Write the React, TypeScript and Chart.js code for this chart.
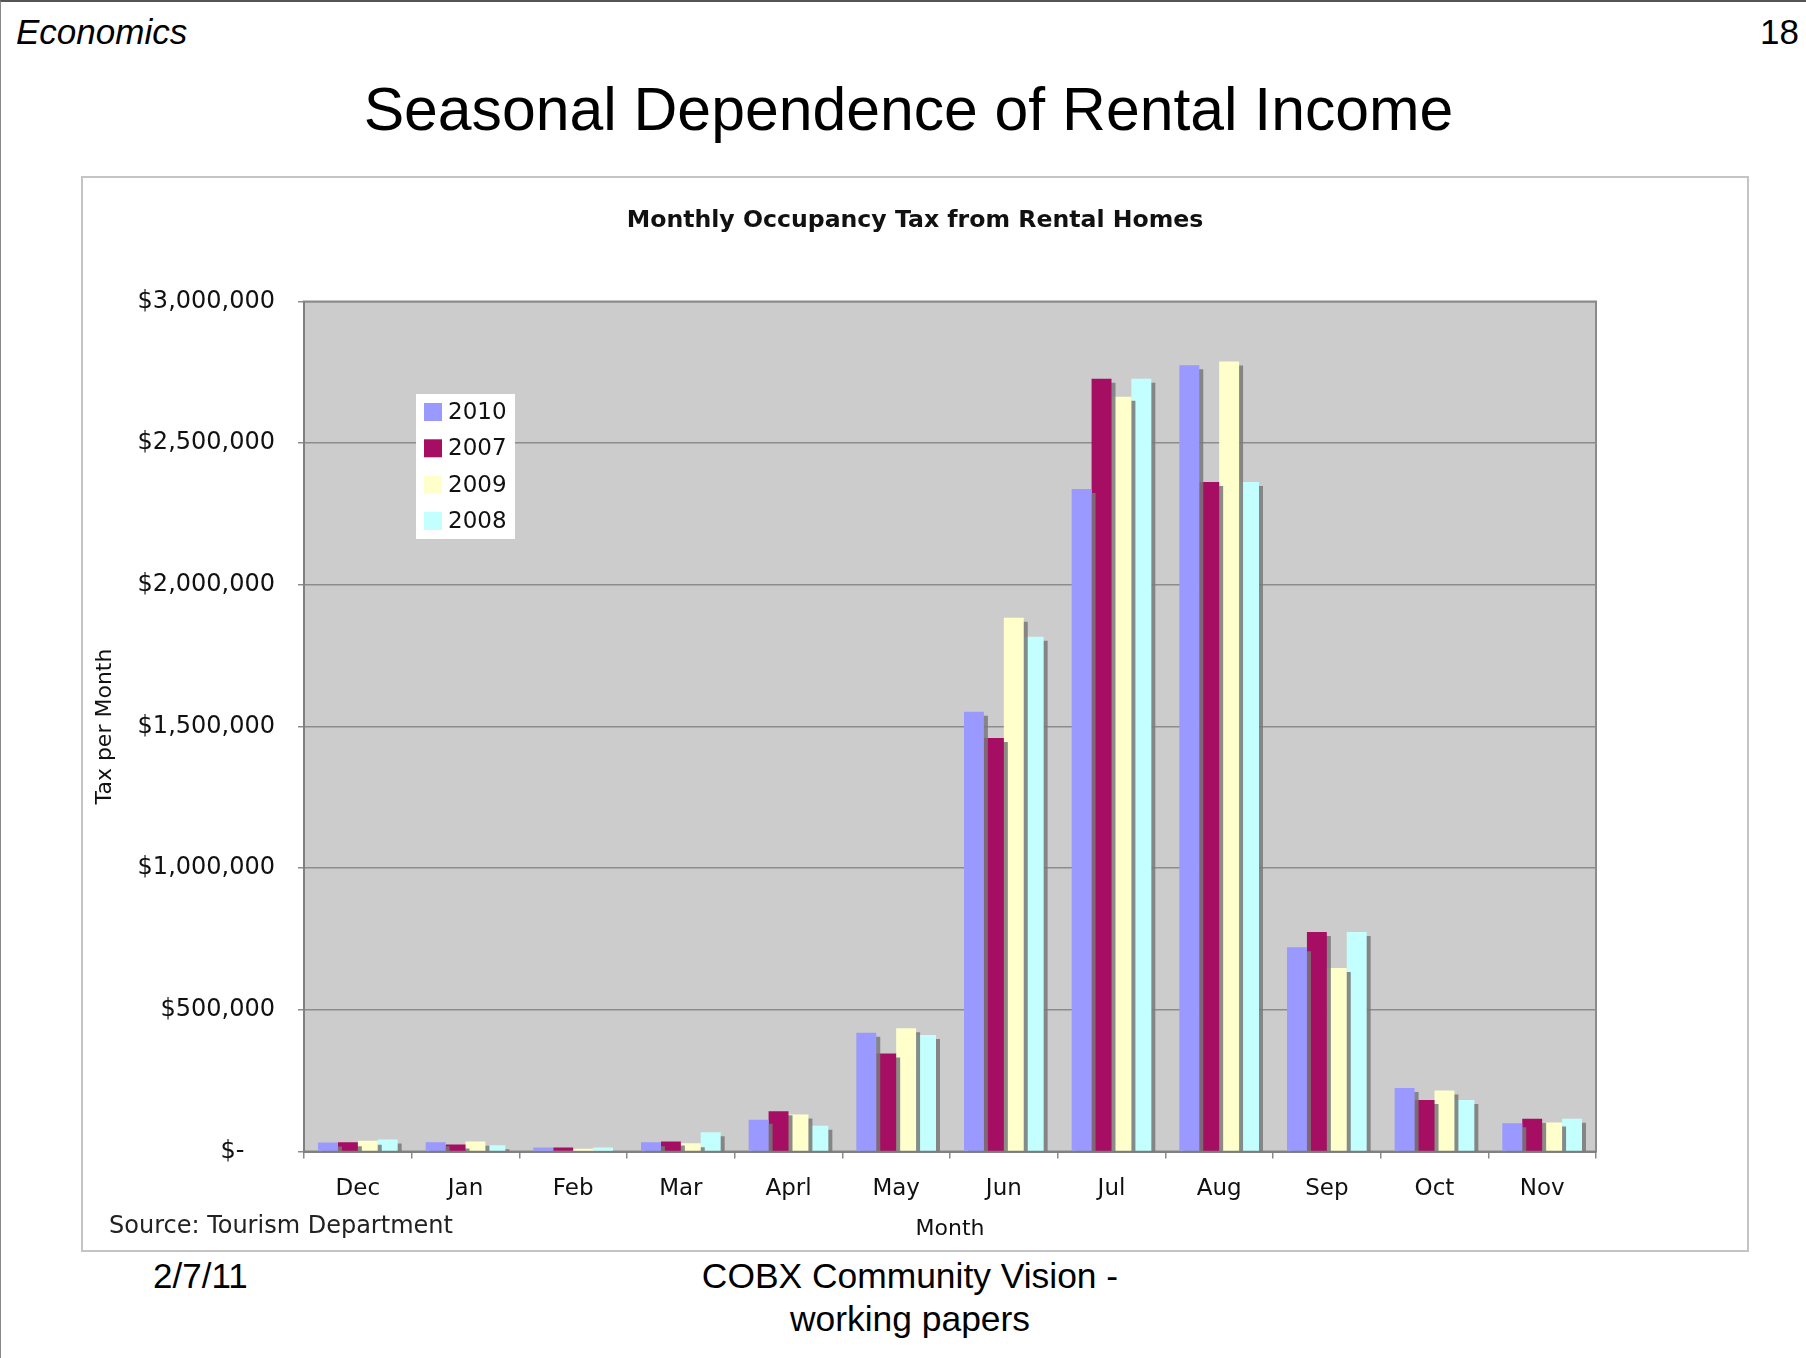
import React, { useEffect, useRef } from 'react';
import { Chart, registerables } from 'chart.js';

Chart.register(...registerables);

const months = ['Dec', 'Jan', 'Feb', 'Mar', 'Aprl', 'May', 'Jun', 'Jul', 'Aug', 'Sep', 'Oct', 'Nov'];
const seriesNames = ['2010', '2007', '2009', '2008'];
const tax2010 = [32000, 33000, 14000, 33000, 112000, 419000, 1552000, 2338000, 2775000, 721000, 224000, 100000];
const tax2007 = [33000, 25000, 14000, 35000, 142000, 346000, 1459000, 2727000, 2363000, 775000, 182000, 116000];
const tax2009 = [38000, 35000, 10000, 29000, 131000, 435000, 1884000, 2664000, 2788000, 648000, 215000, 102000];
const tax2008 = [42000, 22000, 14000, 68000, 91000, 411000, 1817000, 2727000, 2363000, 775000, 182000, 116000];
const seriesColors = ['#9999FF', '#A50E62', '#FFFFCC', '#C4FFFF'];
const yTickValues = [0, 500000, 1000000, 1500000, 2000000, 2500000, 3000000];
const chartTitle = 'Monthly Occupancy Tax from Rental Homes';

const CHART_FONT = "'DejaVu Sans', Verdana, sans-serif";
const SLIDE_FONT = "'Liberation Sans', Arial, sans-serif";

const plotBgPlugin = {
  id: 'plotBg',
  beforeDraw(chart: any) {
    const { ctx, chartArea } = chart;
    const { left, top, width, height } = chartArea;
    ctx.save();
    ctx.fillStyle = '#CCCCCC';
    ctx.fillRect(left, top, width, height);
    ctx.strokeStyle = '#8a8a8a';
    ctx.lineWidth = 2;
    ctx.strokeRect(left, top, width, height);
    ctx.restore();
  },
};

const shadowPlugin = {
  id: 'barShadow',
  beforeDatasetsDraw(chart: any) {
    const ctx = chart.ctx;
    ctx.save();
    ctx.shadowColor = 'rgba(120,120,120,0.85)';
    ctx.shadowOffsetX = 4;
    ctx.shadowOffsetY = 4;
    ctx.shadowBlur = 0;
  },
  afterDatasetsDraw(chart: any) {
    chart.ctx.restore();
  },
};

const centeredTitlePlugin = {
  id: 'centeredTitle',
  afterDraw(chart: any) {
    const { ctx, width } = chart;
    ctx.save();
    ctx.font = `bold 23.6px ${CHART_FONT}`;
    ctx.fillStyle = '#111111';
    ctx.textAlign = 'center';
    ctx.textBaseline = 'middle';
    ctx.fillText(chartTitle, width / 2, 43);
    ctx.restore();
  },
};

const boxLegendPlugin = {
  id: 'boxLegend',
  afterDraw(chart: any) {
    const { ctx, chartArea } = chart;
    const bx = chartArea.left + 112;
    const by = chartArea.top + 92.5;
    ctx.save();
    ctx.fillStyle = '#ffffff';
    ctx.fillRect(bx, by, 99, 145);
    ctx.font = `23px ${CHART_FONT}`;
    ctx.textBaseline = 'middle';
    ctx.textAlign = 'left';
    chart.data.datasets.forEach((ds: any, i: number) => {
      const cy = chartArea.top + 110.5 + i * 36.3;
      ctx.fillStyle = ds.backgroundColor;
      ctx.fillRect(chartArea.left + 120, cy - 9, 18, 18);
      ctx.fillStyle = '#111111';
      ctx.fillText(ds.label, chartArea.left + 144, cy + 1);
    });
    ctx.restore();
  },
};

function formatDollar(v: number): string {
  if (v === 0) return '$-    ';
  return '$' + v.toLocaleString('en-US');
}

function RentalChart() {
  const canvasRef = useRef<HTMLCanvasElement | null>(null);

  useEffect(() => {
    if (!canvasRef.current) return;
    const allSeries = [tax2010, tax2007, tax2009, tax2008];
    const chart = new Chart(canvasRef.current, {
      type: 'bar',
      data: {
        labels: months,
        datasets: allSeries.map((values, i) => ({
          label: seriesNames[i],
          data: values,
          backgroundColor: seriesColors[i],
          borderWidth: 0,
          categoryPercentage: 0.74,
          barPercentage: 1.0,
        })),
      },
      options: {
        animation: false,
        responsive: false,
        maintainAspectRatio: false,
        layout: { padding: { left: 0, right: 151, top: 123.5, bottom: 0 } },
        plugins: {
          legend: { display: false },
          tooltip: { enabled: false },
          title: { display: false },
        },
        scales: {
          x: {
            offset: true,
            grid: {
              offset: true,
              drawOnChartArea: false,
              drawTicks: true,
              tickLength: 7,
              color: '#8a8a8a',
              lineWidth: 1.5,
            },
            border: { display: true, color: '#808080', width: 2 },
            ticks: {
              color: '#111111',
              font: { family: CHART_FONT, size: 23 },
              padding: 16.5,
              maxRotation: 0,
              autoSkip: false,
            },
            title: {
              display: true,
              text: 'Month',
              color: '#111111',
              font: { family: CHART_FONT, size: 22, lineHeight: 1.2 },
              padding: { top: 0, bottom: 7.8 },
            },
            afterFit(scale: any) {
              scale.height = 98.5;
            },
          },
          y: {
            min: 0,
            max: 3000000,
            afterBuildTicks(scale: any) {
              scale.ticks = yTickValues.map((v) => ({ value: v }));
            },
            grid: {
              color: '#8c8c8c',
              lineWidth: 1.5,
              drawTicks: true,
              tickLength: 6,
            },
            border: { display: true, color: '#808080', width: 2 },
            ticks: {
              color: '#111111',
              font: { family: CHART_FONT, size: 24 },
              padding: 23,
              callback: (v: any) => formatDollar(Number(v)),
            },
            title: {
              display: true,
              text: 'Tax per Month',
              color: '#111111',
              font: { family: CHART_FONT, size: 22, lineHeight: 1.2 },
              padding: { top: 8.8, bottom: 0 },
            },
            afterFit(scale: any) {
              scale.width = 221;
            },
          },
        },
      },
      plugins: [plotBgPlugin, shadowPlugin, boxLegendPlugin, centeredTitlePlugin],
    } as any);
    return () => chart.destroy();
  }, []);

  return <canvas ref={canvasRef} width={1664} height={1072} style={{ display: 'block', width: 1664, height: 1072 }} />;
}

export default function App() {
  const abs = (s: React.CSSProperties): React.CSSProperties => ({ position: 'absolute', margin: 0, ...s });
  return (
    <div
      style={{
        position: 'absolute',
        left: 0,
        top: 0,
        width: 1806,
        height: 1358,
        overflow: 'hidden',
        background: '#ffffff',
        boxSizing: 'border-box',
        borderTop: '2px solid #555555',
        borderLeft: '1px solid #888888',
        fontFamily: SLIDE_FONT,
        color: '#000000',
      }}
    >
      <div style={abs({ left: 15, top: 10, fontSize: 35, fontStyle: 'italic', lineHeight: '40px' })}>Economics</div>
      <div style={abs({ right: 7, top: 10, fontSize: 35, lineHeight: '40px' })}>18</div>
      <div style={abs({ left: 0, width: 1815, top: 72, fontSize: 60.7, lineHeight: '70px', textAlign: 'center' })}>
        Seasonal Dependence of Rental Income
      </div>
      <div
        style={{
          position: 'absolute',
          left: 80,
          top: 174,
          width: 1668,
          height: 1076,
          boxSizing: 'border-box',
          border: '2px solid #c4c4c4',
          background: '#ffffff',
        }}
      >
        <RentalChart />
        <div
          style={abs({
            left: 26,
            top: 1033,
            fontFamily: CHART_FONT,
            fontSize: 24,
            lineHeight: '28px',
            color: '#222222',
            whiteSpace: 'nowrap',
          })}
        >
          Source: Tourism Department
        </div>
      </div>
      <div style={abs({ left: 152, top: 1254, fontSize: 35, lineHeight: '40px' })}>2/7/11</div>
      <div style={abs({ left: 609, width: 600, top: 1253, fontSize: 35.4, lineHeight: '43px', textAlign: 'center' })}>
        COBX Community Vision -<br />working papers
      </div>
    </div>
  );
}
